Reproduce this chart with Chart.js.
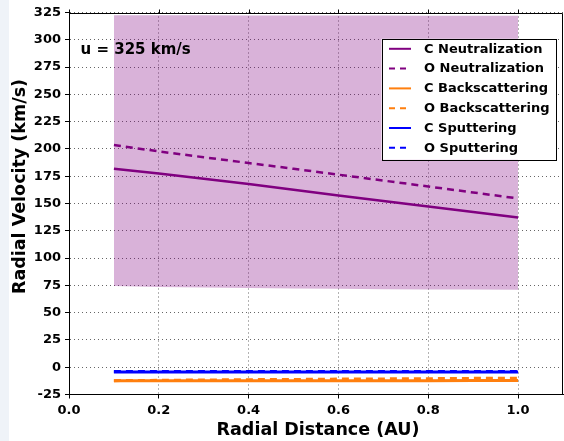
<!DOCTYPE html>
<html>
<head>
<meta charset="utf-8">
<script src="https://cdn.jsdelivr.net/npm/chart.js@4.4.1/dist/chart.umd.min.js"></script>
<style>
  html, body { margin: 0; padding: 0; background: #fff; }
  #wrap { width: 564px; height: 441px; }
</style>
</head>
<body>
<div id="wrap"><canvas id="chart" width="564" height="441"></canvas></div>
<script>
// Radial distance (AU) of the sampled points
const distances = [0.1, 0.2, 0.3, 0.4, 0.5, 0.6, 0.7, 0.8, 0.9, 1.0];

// Radial velocities (km/s) for each production channel
const cNeutralization = [181.8, 177.4, 172.6, 167.8, 162.6, 157.4, 152.3, 147.3, 142.2, 137.2];
const oNeutralization = [203.6, 197.7, 192.4, 187.1, 181.8, 176.4, 171.0, 165.6, 160.1, 154.6];
const cBackscattering = [-12.5, -12.5, -12.4, -12.4, -12.4, -12.3, -12.3, -12.3, -12.2, -12.2];
const oBackscattering = [-12.3, -12.0, -11.7, -11.4, -11.2, -10.9, -10.7, -10.5, -10.2, -10.0];
const cSputtering = [-4.4, -4.4, -4.4, -4.4, -4.4, -4.4, -4.4, -4.4, -4.4, -4.4];
const oSputtering = [-4.0, -4.0, -4.0, -4.0, -4.0, -4.0, -4.0, -4.0, -4.0, -4.0];

// Neutralization velocity range (shaded band)
const bandUpper = [322.5, 322.4, 322.4, 322.3, 322.3, 322.2, 322.2, 322.1, 322.1, 322.0];
const bandLower = [74.4, 73.6, 73.0, 72.5, 72.1, 71.8, 71.5, 71.3, 71.1, 70.9];

// Axis ticks and text
const xTicks = [0.0, 0.2, 0.4, 0.6, 0.8, 1.0];
const yTicks = [-25, 0, 25, 50, 75, 100, 125, 150, 175, 200, 225, 250, 275, 300, 325];
const xTitle = 'Radial Distance (AU)';
const yTitle = 'Radial Velocity (km/s)';
const annotation = 'u = 325 km/s';

const PURPLE = '#800080';
const ORANGE = '#ff7f0e';
const BLUE = '#0000ff';
const FONT = '"DejaVu Sans", "Liberation Sans", sans-serif';

const pts = arr => arr.map((v, i) => ({ x: distances[i], y: v }));

function line(label, values, color, dashed, width) {
  return {
    label, data: pts(values), borderColor: color, backgroundColor: color,
    borderWidth: width, borderDash: dashed ? [7, 5] : [], pointRadius: 0,
    tension: 0, fill: false, inLegend: true
  };
}

const datasets = [
  { label: 'band-upper', data: pts(bandUpper), borderWidth: 0, borderColor: 'rgba(0,0,0,0)',
    pointRadius: 0, fill: '+1', backgroundColor: 'rgba(128,0,128,0.3)' },
  { label: 'band-lower', data: pts(bandLower), borderWidth: 0, borderColor: 'rgba(0,0,0,0)',
    pointRadius: 0, fill: false },
  line('C Neutralization', cNeutralization, PURPLE, false, 2.5),
  line('O Neutralization', oNeutralization, PURPLE, true, 2.5),
  line('C Backscattering', cBackscattering, ORANGE, false, 3),
  line('O Backscattering', oBackscattering, ORANGE, true, 3),
  line('C Sputtering', cSputtering, BLUE, false, 3),
  line('O Sputtering', oSputtering, BLUE, true, 3)
];

const decor = {
  id: 'decor',
  beforeDraw(chart) {
    const ctx = chart.ctx;
    ctx.save();
    ctx.fillStyle = '#ffffff';
    ctx.fillRect(0, 0, chart.width, chart.height);
    ctx.fillStyle = '#eff3f8';
    ctx.fillRect(0, 0, 9, chart.height);
    ctx.restore();
  },
  afterDraw(chart) {
    const { ctx, chartArea: a, scales: { x } } = chart;
    ctx.save();
    // top and right frame
    ctx.strokeStyle = '#000';
    ctx.lineWidth = 1;
    ctx.beginPath();
    const top = Math.round(a.top) + 0.5;
    const right = Math.round(a.right) - 0.5;
    ctx.moveTo(a.left, top);
    ctx.lineTo(right, top);
    ctx.lineTo(right, a.bottom);
    // ticks on the top edge
    xTicks.forEach(v => {
      const px = Math.round(x.getPixelForValue(v)) + 0.5;
      ctx.moveTo(px, top);
      ctx.lineTo(px, top - 4);
    });
    ctx.stroke();

    // velocity annotation
    ctx.fillStyle = '#000';
    ctx.font = 'bold 15px ' + FONT;
    ctx.textAlign = 'left';
    ctx.textBaseline = 'alphabetic';
    ctx.fillText(annotation, a.left + 11.5, a.top + 41.5);

    // legend
    const items = chart.data.datasets.filter(d => d.inLegend);
    const bx = a.right - 181.5, by = a.top + 26.3, bw = 173.5, bh = 121;
    ctx.fillStyle = '#fff';
    ctx.fillRect(bx, by, bw, bh);
    ctx.strokeStyle = '#000';
    ctx.lineWidth = 1;
    ctx.strokeRect(Math.round(bx) + 0.5, Math.round(by) + 0.5, Math.round(bw), Math.round(bh));
    ctx.font = 'bold 13px ' + FONT;
    ctx.textBaseline = 'middle';
    items.forEach((d, i) => {
      const cy = by + 10 + i * 19.8;
      ctx.strokeStyle = d.borderColor;
      ctx.lineWidth = 2;
      ctx.setLineDash(d.borderDash.length ? [6, 5] : []);
      ctx.beginPath();
      ctx.moveTo(bx + 7.5, cy);
      ctx.lineTo(bx + 29.5, cy);
      ctx.stroke();
      ctx.setLineDash([]);
      ctx.fillStyle = '#000';
      ctx.fillText(d.label, bx + 42.5, cy + 0.5);
    });

    // axis titles
    ctx.font = 'bold 17.5px ' + FONT;
    ctx.textAlign = 'center';
    ctx.textBaseline = 'alphabetic';
    ctx.fillText(xTitle, (a.left + a.right) / 2 + 2, 435);
    ctx.translate(24.5, 186.5);
    ctx.rotate(-Math.PI / 2);
    ctx.fillText(yTitle, 0, 0);
    ctx.restore();
  }
};

const tickFont = { family: FONT, size: 13, weight: 'bold' };

new Chart(document.getElementById('chart'), {
  type: 'line',
  data: { datasets },
  plugins: [decor],
  options: {
    responsive: false,
    animation: false,
    devicePixelRatio: 1,
    layout: { padding: { top: 12.5, right: 1, left: 0, bottom: 0 } },
    plugins: { legend: { display: false }, tooltip: { enabled: false }, title: { display: false } },
    scales: {
      x: {
        type: 'linear', min: 0, max: 1.1,
        afterBuildTicks: s => { s.ticks = xTicks.map(v => ({ value: v })); },
        afterFit: s => { s.height = 46.5; },
        ticks: { font: tickFont, color: '#000', padding: 4, maxRotation: 0,
                 callback: v => v.toFixed(1) },
        grid: { color: 'rgba(0,0,0,0.6)', lineWidth: 1, drawTicks: true, tickLength: 4,
                tickColor: '#000', tickBorderDash: [] },
        border: { display: true, color: '#000', width: 1, dash: [1, 3] }
      },
      y: {
        type: 'linear', min: -25, max: 325,
        afterBuildTicks: s => { s.ticks = yTicks.map(v => ({ value: v })); },
        afterFit: s => { s.width = 69; },
        ticks: { font: tickFont, color: '#000', padding: 4, callback: v => String(v) },
        grid: { color: 'rgba(0,0,0,0.6)', lineWidth: 1, drawTicks: true, tickLength: 4,
                tickColor: '#000', tickBorderDash: [] },
        border: { display: true, color: '#000', width: 1, dash: [1, 3] }
      }
    }
  }
});
</script>
</body>
</html>
